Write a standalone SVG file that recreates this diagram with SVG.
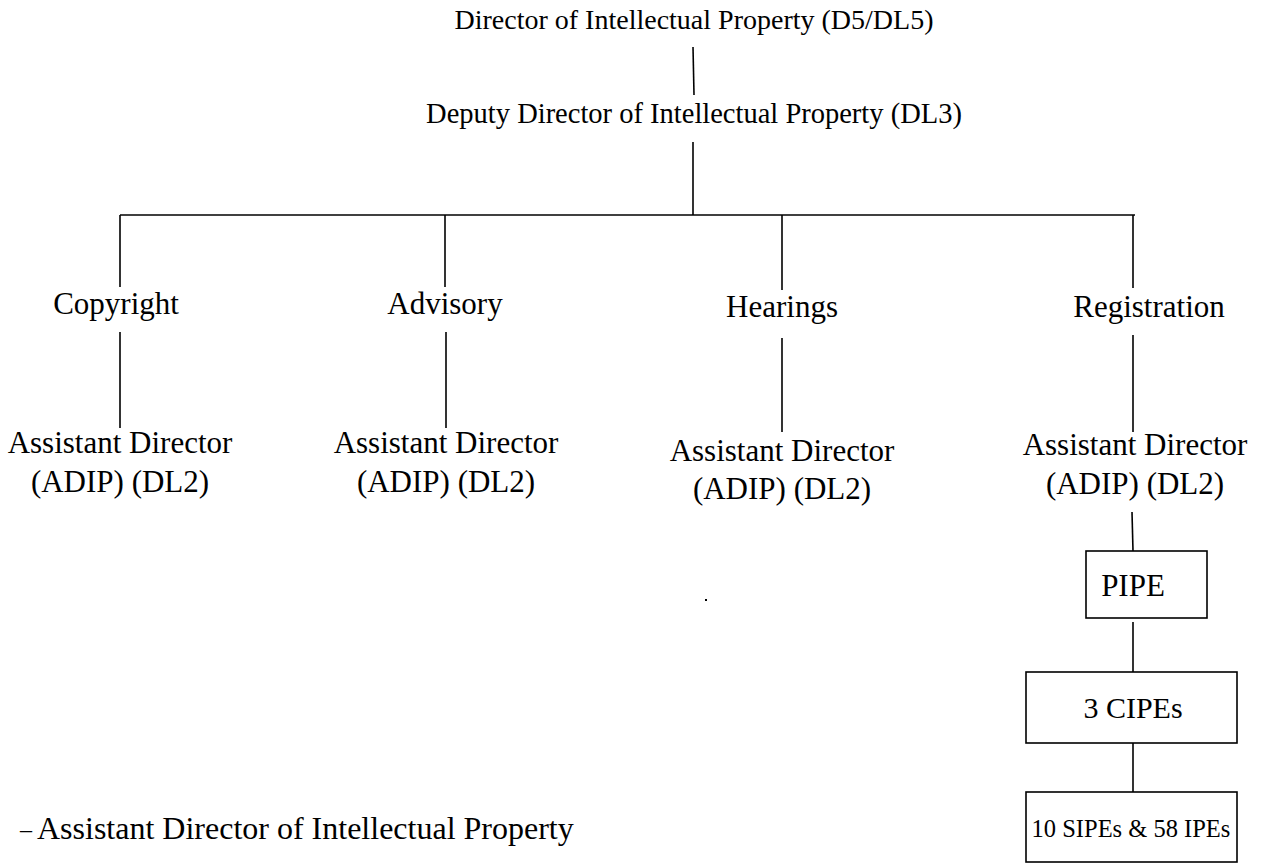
<svg xmlns="http://www.w3.org/2000/svg" width="1281" height="865" viewBox="0 0 1281 865">
<style>
text{font-family:"Liberation Serif","Times New Roman",serif;fill:#000;text-anchor:middle}
.t{font-size:28px}
.m{font-size:31px}
.c line{stroke:#000;stroke-width:1.6}
.b{fill:#fff;stroke:#000;stroke-width:1.6}
</style>
<rect width="1281" height="865" fill="#fff"/>
<g class="c" id="connectors">
<line x1="693" y1="47" x2="694" y2="95"/>
<line x1="693" y1="142" x2="693" y2="215"/>
<line x1="120" y1="215" x2="1135" y2="215"/>
<line x1="120" y1="215" x2="120" y2="287"/>
<line x1="445" y1="215" x2="445" y2="287"/>
<line x1="782" y1="215" x2="782" y2="290"/>
<line x1="1133" y1="215" x2="1133" y2="288"/>
<line x1="120" y1="332" x2="120" y2="428"/>
<line x1="446" y1="332" x2="446" y2="428"/>
<line x1="782" y1="338" x2="782" y2="432"/>
<line x1="1133" y1="335" x2="1133" y2="432"/>
<line x1="1132" y1="512" x2="1133" y2="551"/>
<line x1="1133" y1="622" x2="1133" y2="672"/>
<line x1="1133" y1="743" x2="1133" y2="792"/>
</g>
<g id="director"><text class="t" x="694" y="29">Director of Intellectual Property (D5/DL5)</text></g>
<g id="deputy"><text class="t" x="694" y="123" style="font-size:28.5px">Deputy Director of Intellectual Property (DL3)</text></g>
<g id="copyright"><text class="m" x="116" y="314">Copyright</text></g>
<g id="advisory"><text class="m" x="445" y="314">Advisory</text></g>
<g id="hearings"><text class="m" x="782" y="317">Hearings</text></g>
<g id="registration"><text class="m" x="1149" y="317">Registration</text></g>
<g id="ad-copyright"><text class="m" x="120" y="453">Assistant Director</text><text class="m" x="120" y="492">(ADIP) (DL2)</text></g>
<g id="ad-advisory"><text class="m" x="446" y="453">Assistant Director</text><text class="m" x="446" y="492">(ADIP) (DL2)</text></g>
<g id="ad-hearings"><text class="m" x="782" y="461">Assistant Director</text><text class="m" x="782" y="499">(ADIP) (DL2)</text></g>
<g id="ad-registration"><text class="m" x="1135" y="455">Assistant Director</text><text class="m" x="1135" y="494">(ADIP) (DL2)</text></g>
<g id="pipe"><rect class="b" x="1086" y="551" width="121" height="67"/><text class="m" x="1133" y="596">PIPE</text></g>
<g id="cipes"><rect class="b" x="1026" y="672" width="211" height="71"/><text class="m" x="1133" y="718" style="font-size:30px">3 CIPEs</text></g>
<g id="sipes"><rect class="b" x="1026" y="792" width="211" height="70"/><text class="m" x="1131" y="837" style="font-size:24.5px">10 SIPEs &amp; 58 IPEs</text></g>
<g id="dot"><rect x="705" y="599" width="2" height="2" fill="#000"/></g>
<g id="legend"><text style="text-anchor:start;font-size:32px" x="37" y="839"><tspan x="20" y="837" style="font-size:24px">–</tspan><tspan x="37" y="839">Assistant Director of Intellectual Property</tspan></text></g>
</svg>
